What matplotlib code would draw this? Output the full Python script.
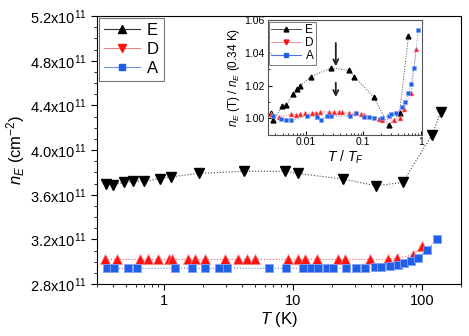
import numpy as np
import matplotlib.pyplot as plt
from matplotlib.lines import Line2D
from matplotlib.ticker import FixedLocator, FuncFormatter, MultipleLocator

# main panel: n_E vs T (K), densities in units of 1e11 cm^-2
T_E = [0.352, 0.40, 0.49, 0.57, 0.70, 0.92, 1.13, 1.84, 4.17, 8.65, 10.96,
       24.2, 43.9, 70.5, 118.9, 138.8]
n_E = [3.70, 3.69, 3.71, 3.72, 3.72, 3.745, 3.76, 3.79, 3.81, 3.81, 3.79,
       3.74, 3.68, 3.71, 4.134, 4.338]

T_D = [0.346, 0.431, 0.644, 0.748, 0.894, 1.087, 1.153, 1.524, 1.714, 2.05,
       2.96, 3.75, 4.35, 5.05, 9.12, 10.96, 12.34, 15.2, 22.2, 25.4, 39.7,
       54.0, 63.8, 84.2, 100.5]
n_D = [3.02] * 22 + [3.03, 3.06, 3.14]

T_A = [0.361, 0.409, 0.518, 0.611, 1.216, 1.637, 2.05, 2.67, 3.05, 6.5, 8.75,
       11.8, 13.6, 15.5, 18.2, 20.4, 25.8, 30.4, 35.7, 43.4, 48.0, 55.8, 64.4,
       72.6, 81.8, 92.0, 108.7, 130.0]
n_A = [2.946, 2.940, 2.939, 2.939, 2.943, 2.940, 2.939, 2.940, 2.943, 2.940,
       2.940, 2.940, 2.940, 2.940, 2.940, 2.940, 2.940, 2.940, 2.946, 2.949,
       2.949, 2.961, 2.973, 2.985, 3.006, 3.030, 3.104, 3.200]

# inset: normalised n_E vs T/T_F
t_E = [0.00249, 0.00277, 0.00396, 0.00464, 0.00604, 0.00719, 0.00789, 0.0122,
       0.0277, 0.0558, 0.070, 0.151, 0.273, 0.423, 0.604]
r_E = [1.0029, 0.9988, 1.0075, 1.0081, 1.0146, 1.0177, 1.0197, 1.0254,
       1.0309, 1.0295, 1.0254, 1.0130, 0.9957, 1.0029, 1.0502]

t_D = [0.00249, 0.00347, 0.00566, 0.00673, 0.00798, 0.00973, 0.0130, 0.0149,
       0.0177, 0.0252, 0.0316, 0.0375, 0.0429, 0.0558, 0.0728, 0.0912, 0.104,
       0.184, 0.210, 0.333, 0.435, 0.515, 0.673, 0.820]
r_D = [1.0024, 1.0010, 1.0024, 1.0020, 1.0024, 1.0029, 1.0032, 1.0032,
       1.0038, 1.0038, 1.0038, 1.0038, 1.0038, 1.0032, 1.0029, 1.0024,
       1.0020, 0.9998, 0.9992, 0.9988, 1.0004, 1.0059, 1.0157, 1.0425]

t_A = [0.00267, 0.00371, 0.00465, 0.00566, 0.0107, 0.0159, 0.0181, 0.0237,
       0.0277, 0.0581, 0.0757, 0.104, 0.123, 0.151, 0.210, 0.273, 0.300,
       0.371, 0.465, 0.530, 0.604, 0.664, 0.757, 0.898]
r_A = [1.0014, 0.9994, 0.9992, 0.9988, 1.0012, 1.0008, 0.9988, 1.0012,
       1.0014, 1.0012, 1.0029, 1.0008, 1.0006, 1.0004, 1.0002, 1.0012,
       1.0024, 1.0029, 1.0069, 1.0102, 1.0152, 1.0213, 1.0309, 1.0543]

labels = ['E', 'D', 'A']

black = '#000000'
red = '#ff1010'
blue = '#2060e8'

plt.rcParams['font.family'] = ['Liberation Sans', 'DejaVu Sans']
plt.rcParams['mathtext.fontset'] = 'custom'
plt.rcParams['mathtext.it'] = 'Liberation Sans:italic'
plt.rcParams['mathtext.rm'] = 'Liberation Sans'

fig = plt.figure(figsize=(4.69, 3.36), dpi=100)
ax = fig.add_axes([0.2068, 0.1548, 0.7762, 0.7972])

ax.plot(T_E, n_E, ls=':', lw=0.8, color='#444444', marker='v', ms=6.8,
        mfc=black, mec=black)
ax.plot(T_D, n_D, ls=':', lw=0.8, color='#f06060', marker='^', ms=7,
        mfc=red, mec='#ff8080', mew=0.5)
ax.plot(T_A, n_A, ls=':', lw=0.8, color='#6080f0', marker='s', ms=5.3,
        mfc=blue, mec='#80a0ff', mew=0.6)

ax.set_xscale('log')
ax.set_xlim(0.3, 200)
ax.set_ylim(2.8, 5.2)
ax.yaxis.set_major_locator(MultipleLocator(0.4))
ax.yaxis.set_minor_locator(MultipleLocator(0.1))
ax.yaxis.set_major_formatter(FuncFormatter(lambda v, p: '%.1fx10$^{11}$' % v))
ax.xaxis.set_major_formatter(FuncFormatter(lambda v, p: '%g' % v))
ax.tick_params(which='both', direction='out', labelsize=10.5)
ax.tick_params(which='major', length=4)
ax.tick_params(which='minor', length=2.5)
ax.set_xlabel('$T$ (K)', fontsize=12, labelpad=1)
ax.set_ylabel('$n_E$ (cm$^{-2}$)', fontsize=12, labelpad=2)

handles = [
    Line2D([], [], color='#333333', lw=0.8, marker='^', ms=6, mfc=black, mec=black),
    Line2D([], [], color='#f08080', lw=0.8, marker='v', ms=6, mfc=red, mec=red),
    Line2D([], [], color='#7090f0', lw=0.8, marker='s', ms=5, mfc=blue, mec=blue),
]
leg = ax.legend(handles, labels, loc='upper left', fontsize=12, frameon=True,
                fancybox=False, edgecolor='#555555', handlelength=2.2,
                borderaxespad=0.1, labelspacing=0.25, handletextpad=0.4,
                borderpad=0.3)
leg.get_frame().set_linewidth(0.8)

# inset
ins = fig.add_axes([0.5708, 0.5997, 0.3296, 0.3393])
ins.plot(t_E, r_E, ls=':', lw=0.7, color='#444444', marker='^', ms=3.5,
         mfc=black, mec=black)
ins.plot(t_D, r_D, ls=':', lw=0.7, color='#f06080', marker='^', ms=3.5,
         mfc=red, mec='#ff8080', mew=0.4)
ins.plot(t_A, r_A, ls=':', lw=0.7, color='#6090f0', marker='s', ms=3.5,
         mfc=blue, mec='#80a0ff', mew=0.4)
ins.set_xscale('log')
ins.set_xlim(0.0022, 1.05)
ins.set_ylim(0.99, 1.06)
ins.yaxis.set_major_locator(MultipleLocator(0.02))
ins.yaxis.set_minor_locator(MultipleLocator(0.01))
ins.xaxis.set_major_locator(FixedLocator([0.01, 0.1, 1]))
ins.xaxis.set_major_formatter(FuncFormatter(lambda v, p: '%g' % v))
ins.yaxis.set_major_formatter(FuncFormatter(lambda v, p: '%.2f' % v))
ins.tick_params(which='both', direction='in', labelsize=7.5, pad=2)
ins.tick_params(which='major', length=3)
ins.tick_params(which='minor', length=1.5)
for s in ins.spines.values():
    s.set_color('#555555')
ins.set_xlabel('$T$ / $T_F$', fontsize=10, labelpad=1)
ins.set_ylabel('$n_E$ (T) / $n_E$ (0.34 K)', fontsize=8.5, labelpad=2)

for y0, y1 in [(1.0462, 1.0319), (1.0218, 1.0130)]:
    ins.annotate('', xy=(0.0333, y1), xytext=(0.0333, y0),
                 arrowprops=dict(arrowstyle='->', color='#222222', lw=1.3,
                                 shrinkA=0, shrinkB=0, mutation_scale=9))

ins_handles = [
    Line2D([], [], color='#333333', lw=0.6, marker='^', ms=3.5, mfc=black, mec=black),
    Line2D([], [], color='#f08080', lw=0.6, marker='v', ms=3.5, mfc=red, mec=red),
    Line2D([], [], color='#5070e0', lw=0.8, marker='s', ms=3, mfc=blue, mec=blue),
]
ileg = ins.legend(ins_handles, labels, loc='upper left', fontsize=8.5,
                  frameon=True, fancybox=False, edgecolor='#555555',
                  handlelength=2.5, borderaxespad=0.1, labelspacing=0.1,
                  handletextpad=0.4, borderpad=0.2)
ileg.get_frame().set_linewidth(0.7)

fig.savefig('out.png', dpi=100)
